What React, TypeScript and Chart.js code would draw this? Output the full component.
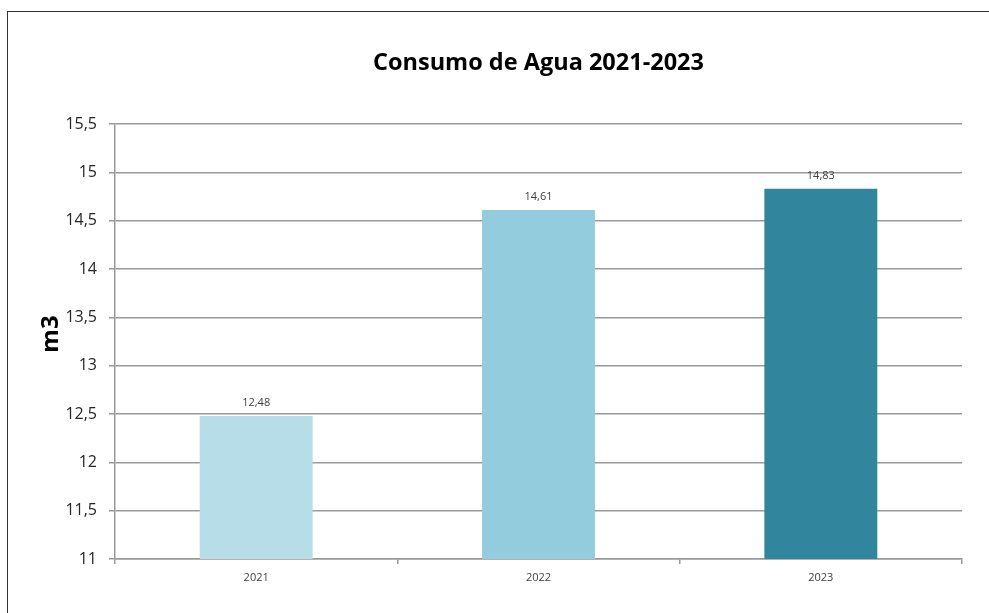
import React, { useEffect, useRef } from "react";
import { Chart, registerables } from "chart.js";

Chart.register(...registerables);

const categories = ["2021", "2022", "2023"];
const consumo = [12.48, 14.61, 14.83];
const barColors = ["#b7dde8", "#93cddd", "#31859c"];
const titleText = "Consumo de Agua 2021-2023";
const yTitle = "m3";
const yMin = 11;
const yMax = 15.5;
const yStep = 0.5;

const FONT = "'Open Sans', 'Noto Sans', sans-serif";

const fmt = (v: number) => String(v).replace(".", ",");

const overlayPlugin = {
  id: "overlay",
  afterDatasetsDraw(chart: any) {
    const ctx = chart.ctx;
    const area = chart.chartArea;
    ctx.save();
    ctx.fillStyle = "#000000";
    ctx.font = `bold 23.5px ${FONT}`;
    ctx.textAlign = "center";
    ctx.textBaseline = "middle";
    ctx.fillText(titleText, (area.left + area.right) / 2, 51);

    // y axis title
    ctx.save();
    ctx.translate(43, 322);
    ctx.rotate(-Math.PI / 2);
    ctx.font = `bold 24px ${FONT}`;
    ctx.fillText(yTitle, 0, 0);
    ctx.restore();

    const meta = chart.getDatasetMeta(0);
    ctx.font = `11px ${FONT}`;
    ctx.fillStyle = "#404040";
    meta.data.forEach((bar: any, i: number) => {
      ctx.fillText(fmt(consumo[i]), bar.x, bar.y - 13);
    });
    ctx.restore();
  },
};

export default function App() {
  const ref = useRef<HTMLCanvasElement | null>(null);

  useEffect(() => {
    if (!ref.current) return;
    const chart = new Chart(ref.current, {
      type: "bar",
      data: {
        labels: categories,
        datasets: [
          {
            data: consumo,
            backgroundColor: barColors,
            borderWidth: 0,
            categoryPercentage: 1,
            barPercentage: 0.4,
          },
        ],
      },
      options: {
        animation: false,
        responsive: false,
        maintainAspectRatio: false,
        layout: { padding: { left: 0, right: 27, top: 112, bottom: 0 } },
        plugins: {
          legend: { display: false },
          title: { display: false },
          tooltip: { enabled: false },
        },
        scales: {
          x: {
            afterFit: (s: any) => {
              s.height = 54;
            },
            grid: {
              offset: true,
              drawOnChartArea: false,
              drawTicks: true,
              tickLength: 5,
              color: "#999999",
              lineWidth: 1.5,
            },
            border: { color: "#999999", width: 1.5 },
            ticks: {
              color: "#404040",
              font: { family: FONT, size: 11 },
              padding: 7,
            },
          },
          y: {
            min: yMin,
            max: yMax,
            afterFit: (s: any) => {
              s.width = 107;
            },
            grid: {
              color: "#999999",
              lineWidth: 1.5,
              drawTicks: true,
              tickLength: 6,
            },
            border: { color: "#999999", width: 1.5 },
            ticks: {
              stepSize: yStep,
              color: "#262626",
              font: { family: FONT, size: 16 },
              padding: 12,
              callback: (v: any) => fmt(Number(v)),
            },
            title: { display: false },
          },
        },
      },
      plugins: [overlayPlugin],
    });
    return () => chart.destroy();
  }, []);

  return (
    <div
      style={{
        position: "fixed",
        left: 7,
        top: 11,
        width: 981,
        height: 601,
        borderTop: "1px solid #333333",
        borderLeft: "1px solid #333333",
        background: "#ffffff",
      }}
    >
      <canvas ref={ref} width={981} height={601} style={{ display: "block" }} />
    </div>
  );
}
